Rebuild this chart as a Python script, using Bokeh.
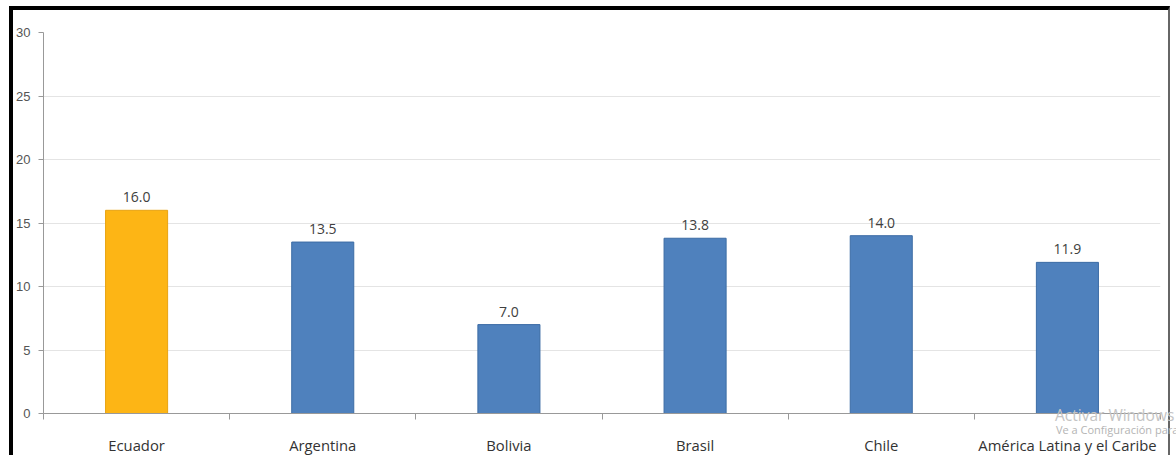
from bokeh.plotting import figure
from bokeh.models import FixedTicker, ColumnDataSource, Range1d, LabelSet, InlineStyleSheet
from bokeh.core.properties import value
from bokeh.embed import file_html
from bokeh.resources import INLINE

categories = ["Ecuador", "Argentina", "Bolivia", "Brasil", "Chile", "América Latina y el Caribe"]
values = [16.0, 13.5, 7.0, 13.8, 14.0, 11.9]
fills = ["#FDB515", "#4F81BD", "#4F81BD", "#4F81BD", "#4F81BD", "#4F81BD"]
lines = ["#E8A312", "#3C6CA5", "#3C6CA5", "#3C6CA5", "#3C6CA5", "#3C6CA5"]
y_ticks = [0, 5, 10, 15, 20, 25, 30]

xs = [i + 0.5 for i in range(len(categories))]
src = ColumnDataSource(dict(x=xs, top=values, fill=fills, line=lines,
                            lab=["%.1f" % v for v in values]))

p = figure(width=1161, height=449, output_backend="svg", toolbar_location=None,
           x_range=Range1d(0, len(categories)), y_range=Range1d(0, 30),
           min_border_left=30, min_border_right=14, min_border_top=22, min_border_bottom=46)
p.outline_line_color = None
p.background_fill_color = "white"
p.border_fill_color = "white"

p.vbar(x="x", top="top", width=1/3, source=src, fill_color="fill", line_color="line", line_width=1)

labels = LabelSet(x="x", y="top", text="lab", source=src, text_align="center",
                  text_baseline="alphabetic", y_offset=8, text_font_size="14px",
                  text_font=value("Open Sans"), text_color="#404040")
p.add_layout(labels)

# axes
p.xaxis.ticker = FixedTicker(ticks=xs, minor_ticks=list(range(len(categories) + 1)))
p.xaxis.major_label_overrides = {x: c for x, c in zip(xs, categories)}
p.xaxis.major_tick_out = 0
p.xaxis.major_tick_in = 0
p.xaxis.minor_tick_out = 6
p.xaxis.minor_tick_in = 0
p.xaxis.minor_tick_line_color = "#999999"
p.xaxis.axis_line_color = "#999999"
p.xaxis.major_label_standoff = 15
p.xaxis.major_label_text_font = "Open Sans"
p.xaxis.major_label_text_font_size = "14.8px"
p.xaxis.major_label_text_color = "#333333"

p.yaxis.ticker = FixedTicker(ticks=y_ticks)
p.yaxis.major_tick_out = 5
p.yaxis.major_tick_in = 0
p.yaxis.minor_tick_line_color = None
p.yaxis.axis_line_color = "#999999"
p.yaxis.major_tick_line_color = "#999999"
p.yaxis.major_label_standoff = 8
p.yaxis.major_label_text_font = "Liberation Sans"
p.yaxis.major_label_text_font_size = "13px"
p.yaxis.major_label_text_color = "#555555"

p.xgrid.grid_line_color = None
p.ygrid.grid_line_color = "#E4E4E4"
p.ygrid.ticker = FixedTicker(ticks=y_ticks)

# screenshot frame and watermark
p.styles = {"margin-left": "9px", "margin-top": "6px",
            "border-top": "4px solid #000000", "border-left": "4px solid #000000",
            "border-right": "2px solid #666666"}
css = """
:host { position: relative; }
:host::before {
  content: "Activar Windows"; position: absolute; left: 1042px; top: 394px;
  font-family: 'Open Sans', sans-serif; font-size: 15.5px; color: #C4C4C4;
  white-space: nowrap; pointer-events: none; z-index: 20;
}
:host::after {
  content: "Ve a Configuración para"; position: absolute; left: 1043px; top: 412px;
  font-family: 'Open Sans', sans-serif; font-size: 11px; color: #B4B4B4;
  white-space: nowrap; pointer-events: none; z-index: 20;
}
"""
p.stylesheets = [InlineStyleSheet(css=css)]

open("out.html", "w").write(file_html(p, INLINE))
